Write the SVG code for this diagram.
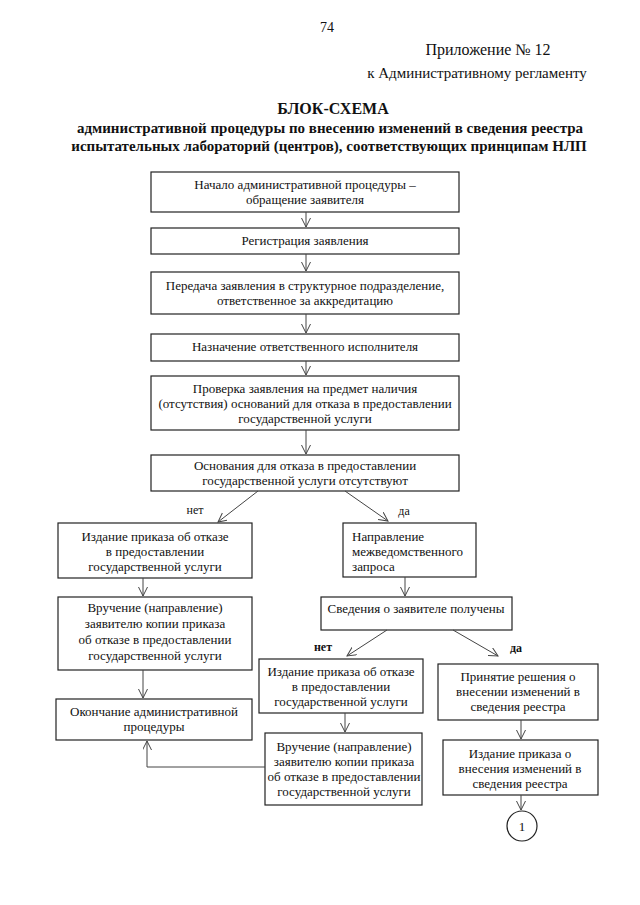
<svg xmlns="http://www.w3.org/2000/svg" width="640" height="905" viewBox="0 0 640 905">
<defs>
<style>
text{font-family:"Liberation Serif","Times New Roman",serif;fill:#111;}
.t{font-size:13px;text-anchor:middle;}
.tl{font-size:13px;text-anchor:start;}
.h{font-size:16px;text-anchor:middle;}
.b{font-weight:bold;text-anchor:middle;}
.lbl{font-size:12px;text-anchor:middle;}
.box{fill:#fff;stroke:#222;stroke-width:1.2;}
.c line,.c path{stroke:#444;stroke-width:1;fill:none;marker-end:url(#ah);}
</style>
<marker id="ah" markerUnits="userSpaceOnUse" markerWidth="12" markerHeight="10" refX="9" refY="4.5" orient="auto">
<path d="M0,0 L9,4.5 L0,9" fill="none" stroke="#444" stroke-width="1"/>
</marker>
</defs>
<rect width="640" height="905" fill="#fff"/>

<g id="header">
<text x="327" y="32" style="font-size:14px;text-anchor:middle">74</text>
<text x="488" y="55" class="h">Приложение № 12</text>
<text x="477" y="78" class="h" style="font-size:15px">к Административному регламенту</text>
<text x="333" y="114" class="b" style="font-size:16px">БЛОК-СХЕМА</text>
<text x="330" y="133" class="b" style="font-size:15px">административной процедуры по внесению изменений в сведения реестра</text>
<text x="329" y="151" class="b" style="font-size:15px">испытательных лабораторий (центров), соответствующих принципам НЛП</text>
</g>

<g id="n1"><rect class="box" x="151" y="172" width="308" height="40"/>
<text class="t" x="305" y="189">Начало административной процедуры –</text>
<text class="t" x="305" y="204">обращение заявителя</text></g>

<g id="n2"><rect class="box" x="151" y="228" width="308" height="26"/>
<text class="t" x="305" y="245">Регистрация заявления</text></g>

<g id="n3"><rect class="box" x="151" y="272" width="308" height="42"/>
<text class="t" x="305" y="290">Передача заявления в структурное подразделение,</text>
<text class="t" x="305" y="305">ответственное за аккредитацию</text></g>

<g id="n4"><rect class="box" x="151" y="334" width="308" height="27"/>
<text class="t" x="305" y="351">Назначение ответственного исполнителя</text></g>

<g id="n5"><rect class="box" x="151" y="376" width="308" height="54"/>
<text class="t" x="305" y="393">Проверка заявления на предмет наличия</text>
<text class="t" x="305" y="408">(отсутствия) оснований для отказа в предоставлении</text>
<text class="t" x="305" y="423">государственной услуги</text></g>

<g id="n6"><rect class="box" x="151" y="455" width="308" height="36"/>
<text class="t" x="305" y="470">Основания для отказа в предоставлении</text>
<text class="t" x="305" y="485">государственной услуги отсутствуют</text></g>

<g id="a1"><rect class="box" x="58" y="523" width="194" height="55"/>
<text class="t" x="155" y="541">Издание приказа об отказе</text>
<text class="t" x="155" y="556">в предоставлении</text>
<text class="t" x="155" y="571">государственной услуги</text></g>

<g id="a2"><rect class="box" x="58" y="597" width="194" height="73"/>
<text class="t" x="155" y="612">Вручение (направление)</text>
<text class="t" x="155" y="628">заявителю копии приказа</text>
<text class="t" x="155" y="644">об отказе в предоставлении</text>
<text class="t" x="155" y="660">государственной услуги</text></g>

<g id="a3"><rect class="box" x="56" y="699" width="196" height="41"/>
<text class="t" x="154" y="716">Окончание административной</text>
<text class="t" x="154" y="731">процедуры</text></g>

<g id="b1"><rect class="box" x="343" y="523" width="133" height="54"/>
<text class="tl" x="352" y="541">Направление</text>
<text class="tl" x="352" y="556">межведомственного</text>
<text class="tl" x="352" y="571">запроса</text></g>

<g id="b2"><rect class="box" x="321" y="597" width="191" height="33"/>
<text class="t" x="416" y="613">Сведения о заявителе получены</text></g>

<g id="b3"><rect class="box" x="259" y="659" width="164" height="54"/>
<text class="t" x="341" y="676">Издание приказа об отказе</text>
<text class="t" x="341" y="691">в предоставлении</text>
<text class="t" x="341" y="706">государственной услуги</text></g>

<g id="b4"><rect class="box" x="265" y="733" width="157" height="72"/>
<text class="t" x="344" y="751">Вручение (направление)</text>
<text class="t" x="344" y="766">заявителю копии приказа</text>
<text class="t" x="344" y="781">об отказе в предоставлении</text>
<text class="t" x="344" y="796">государственной услуги</text></g>

<g id="b5"><rect class="box" x="438" y="664" width="160" height="56"/>
<text class="t" x="518" y="681">Принятие решения о</text>
<text class="t" x="518" y="696">внесении изменений в</text>
<text class="t" x="518" y="711">сведения реестра</text></g>

<g id="b6"><rect class="box" x="443" y="740" width="155" height="55"/>
<text class="t" x="520" y="758">Издание приказа о</text>
<text class="t" x="520" y="773">внесения изменений в</text>
<text class="t" x="520" y="788">сведения реестра</text></g>

<g id="end"><circle class="box" cx="522" cy="826" r="15"/>
<text class="t" x="522" y="831">1</text></g>

<g id="labels">
<text class="lbl" x="195" y="514">нет</text>
<text class="lbl" x="404" y="515">да</text>
<text class="lbl" x="323" y="651" style="font-weight:bold">нет</text>
<text class="lbl" x="516" y="652" style="font-weight:bold">да</text>
</g>

<g id="connectors" class="c">
<line x1="306" y1="212" x2="306" y2="227"/>
<line x1="306" y1="254" x2="306" y2="271"/>
<line x1="306" y1="314" x2="306" y2="333"/>
<line x1="306" y1="361" x2="306" y2="375"/>
<line x1="306" y1="430" x2="306" y2="454"/>
<line x1="258" y1="491" x2="218" y2="522"/>
<line x1="345" y1="491" x2="388" y2="521"/>
<line x1="143" y1="578" x2="143" y2="596"/>
<line x1="143" y1="670" x2="143" y2="698"/>
<line x1="405" y1="577" x2="405" y2="596"/>
<line x1="387" y1="630" x2="347" y2="656"/>
<line x1="453" y1="630" x2="498" y2="656"/>
<line x1="345" y1="713" x2="345" y2="732"/>
<line x1="521" y1="720" x2="521" y2="739"/>
<line x1="521" y1="795" x2="521" y2="810"/>
<path d="M265,767 H147 V741"/>
</g>
</svg>
